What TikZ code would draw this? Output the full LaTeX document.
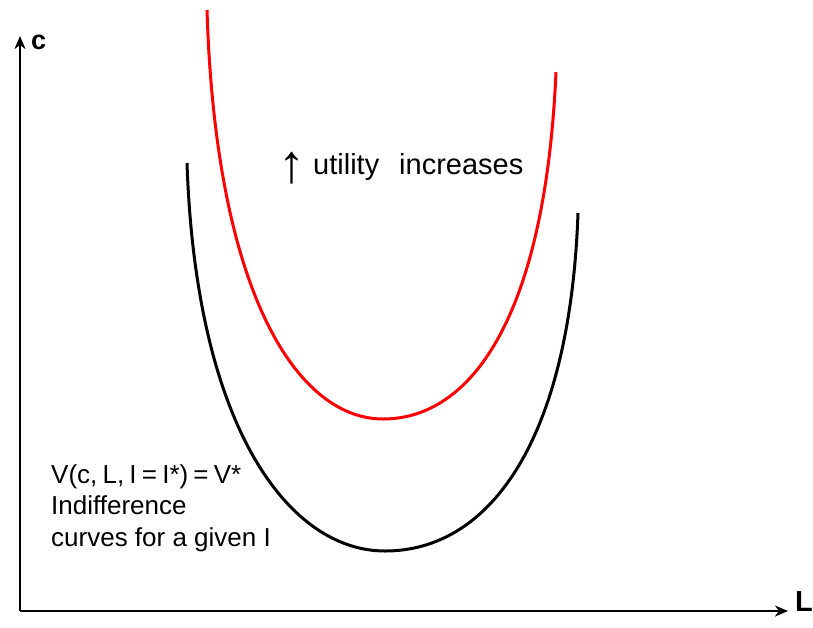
\documentclass[tikz,border=0pt]{standalone}
\usepackage{fontspec}
\setmainfont{Liberation Sans}
\usetikzlibrary{arrows.meta}
\begin{document}
\begin{tikzpicture}[x=1pt,y=-1pt,
  axis/.style={line width=2.4pt,-{Stealth[length=13pt,width=11pt,inset=4pt]}},
  curve/.style={line width=3pt},
  lbl/.style={inner sep=0pt}]
\useasboundingbox (0,0) rectangle (813,627);
\coordinate (O) at (20,611);
\coordinate (ytop) at (20,36);
\coordinate (xend) at (788,611);
\draw[axis] (O) -- (ytop);
\draw[axis] (O) -- (xend);
\node[lbl,font=\fontsize{27}{30}\selectfont\bfseries,anchor=base west] (c) at (31,49) {c};
\node[lbl,font=\fontsize{29}{32}\selectfont\bfseries,anchor=base west] (L) at (795,611) {L};
% black indifference curve
\draw[curve,black] (187,163) .. controls (196,430) and (290,551) .. (385,551)
  .. controls (490,551) and (570,440) .. (578,213);
% red indifference curve
\draw[curve,red] (207,10) .. controls (216,300) and (300,419) .. (383,419)
  .. controls (470,419) and (545,320) .. (556,72);
\node[lbl,font=\fontsize{29}{32}\selectfont,anchor=base west] (util) at (278,174)
  {\raisebox{-8pt}{\fontsize{54}{54}\selectfont ↑}\hspace{8pt}utility\hspace{20pt}increases};
\node[lbl,font=\fontsize{26}{31.5}\selectfont,anchor=north west,align=left] (txt) at (51,464)
  {V(c,\hspace{0.2em}L,\hspace{0.2em}I\hspace{0.2em}=\hspace{0.2em}I*)\hspace{0.2em}=\hspace{0.2em}V*\\Indifference\\curves for a given I};
\end{tikzpicture}
\end{document}
